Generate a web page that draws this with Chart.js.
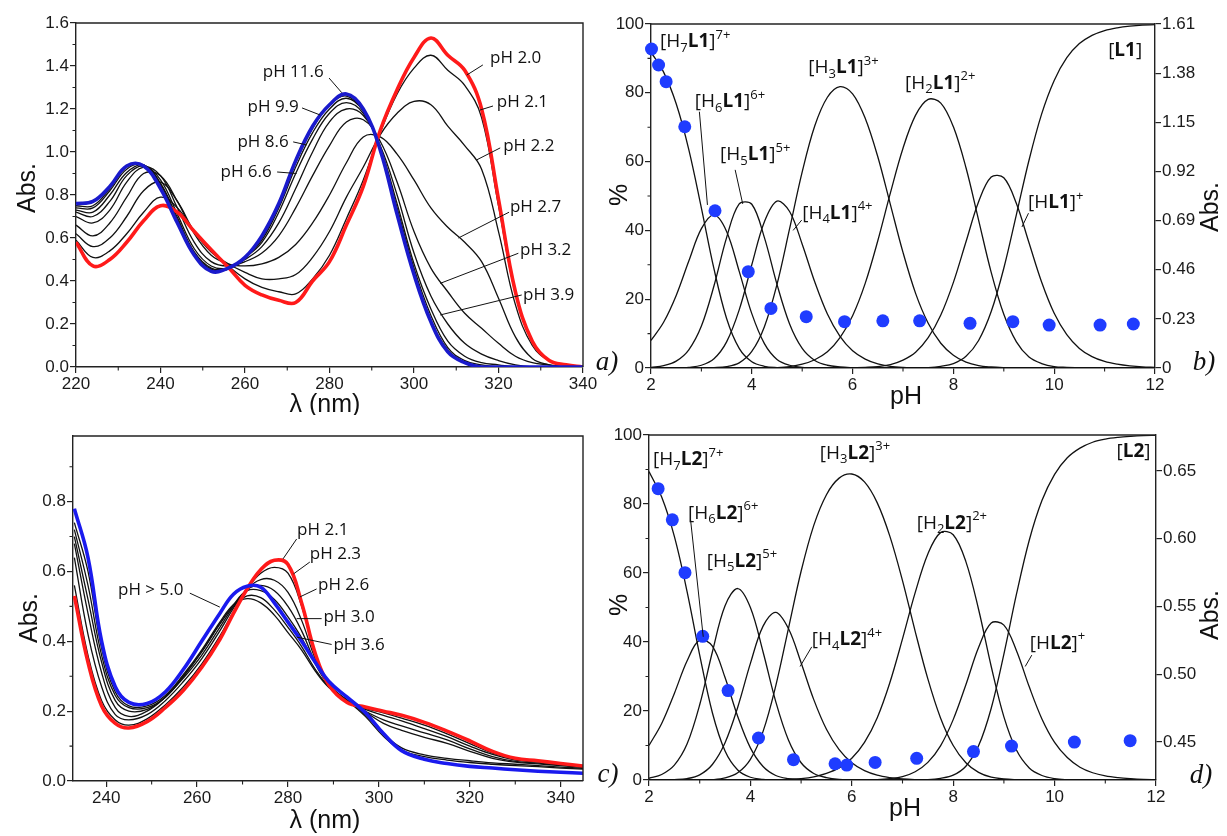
<!DOCTYPE html>
<html lang="en">
<head>
<meta charset="UTF-8">
<title>UV spectra and species distribution of L1 and L2</title>
<script src="https://cdn.jsdelivr.net/npm/chart.js"></script>
<style>
    body {
        margin: 0;
        width: 1227px;
        height: 836px;
        position: relative;
        overflow: hidden;
        background: #fff;
    }
    .panel {
        position: absolute;
    }
</style>
</head>
<body>

<div class="panel" style="left:0;top:0"><canvas id="chartA" width="620" height="415"></canvas></div>
<div class="panel" style="left:600px;top:0"><canvas id="chartB" width="627" height="415"></canvas></div>
<div class="panel" style="left:0;top:415px"><canvas id="chartC" width="620" height="421"></canvas></div>
<div class="panel" style="left:600px;top:415px"><canvas id="chartD" width="627" height="421"></canvas></div>

<script>
// ---------- panel a) : UV spectra of L1 at different pH ----------
var wlA = [220,224,228,232,236,240,244,248,252,256,260,264,268,272,276,280,284,288,292,296,300,304,308,312,316,320,324,328,332,336,340];
var absA_pH20  = [0.58,0.47,0.50,0.58,0.68,0.75,0.72,0.63,0.545,0.465,0.38,0.335,0.31,0.30,0.40,0.49,0.66,0.84,1.10,1.29,1.44,1.53,1.45,1.38,1.20,0.78,0.35,0.12,0.03,0.01,0];
var absA_pH21  = [0.59,0.51,0.54,0.62,0.72,0.79,0.74,0.63,0.54,0.47,0.41,0.37,0.35,0.34,0.41,0.52,0.69,0.87,1.09,1.27,1.39,1.45,1.38,1.31,1.16,0.75,0.34,0.12,0.03,0.01,0];
var absA_pH22  = [0.62,0.56,0.60,0.70,0.82,0.86,0.77,0.63,0.535,0.48,0.44,0.41,0.41,0.43,0.51,0.63,0.79,0.93,1.08,1.18,1.235,1.22,1.12,1.03,0.92,0.63,0.29,0.10,0.03,0.01,0];
var absA_pH27  = [0.66,0.61,0.67,0.79,0.90,0.89,0.77,0.62,0.52,0.48,0.47,0.48,0.51,0.57,0.67,0.80,0.95,1.07,1.07,0.99,0.87,0.74,0.65,0.58,0.49,0.32,0.14,0.04,0.01,0,0];
var absA_pH32  = [0.70,0.67,0.73,0.86,0.93,0.89,0.74,0.58,0.49,0.47,0.49,0.53,0.61,0.74,0.89,1.03,1.14,1.15,1.05,0.86,0.63,0.46,0.35,0.25,0.18,0.11,0.05,0.02,0.01,0,0];
var absA_pH39  = [0.72,0.70,0.77,0.89,0.935,0.87,0.71,0.55,0.47,0.46,0.50,0.56,0.67,0.83,1.00,1.14,1.20,1.17,1.03,0.80,0.53,0.33,0.20,0.11,0.06,0.03,0.01,0,0,0,0];
var absA_pH66  = [0.73,0.72,0.80,0.905,0.94,0.855,0.695,0.535,0.46,0.46,0.51,0.58,0.72,0.90,1.06,1.18,1.23,1.18,1.02,0.76,0.48,0.27,0.12,0.05,0.02,0.01,0,0,0,0,0];
var absA_pH86  = [0.74,0.74,0.82,0.92,0.94,0.85,0.685,0.53,0.455,0.455,0.51,0.59,0.74,0.93,1.09,1.20,1.25,1.19,1.01,0.74,0.46,0.24,0.09,0.03,0.01,0,0,0,0,0,0];
var absA_pH99  = [0.75,0.75,0.83,0.93,0.935,0.84,0.68,0.525,0.45,0.455,0.51,0.60,0.75,0.95,1.11,1.22,1.26,1.19,1.01,0.72,0.44,0.22,0.08,0.02,0,0,0,0,0,0,0];
var absA_pH116 = [0.76,0.77,0.84,0.935,0.935,0.83,0.67,0.52,0.445,0.46,0.51,0.61,0.76,0.96,1.12,1.22,1.27,1.20,1.01,0.71,0.43,0.21,0.07,0.02,0,0,0,0,0,0,0];
var ticksA_x = [220,240,260,280,300,320,340];
var ticksA_y = [0,0.2,0.4,0.6,0.8,1.0,1.2,1.4,1.6];

// ---------- panel c) : UV spectra of L2 at different pH ----------
var wlC = [233,236,239,242,245,249,253,257,261,265,268,271,274,277,280,283,286,289,293,297,301,305,310,315,320,325,330,335,340,345];
var absC_pH21 = [0.53,0.34,0.215,0.165,0.152,0.17,0.21,0.26,0.325,0.405,0.48,0.55,0.605,0.632,0.62,0.51,0.365,0.275,0.225,0.212,0.200,0.188,0.168,0.143,0.115,0.085,0.065,0.058,0.05,0.043];
var absC_pH23 = [0.56,0.36,0.23,0.175,0.16,0.178,0.218,0.27,0.335,0.415,0.485,0.55,0.595,0.612,0.595,0.50,0.36,0.275,0.225,0.208,0.195,0.180,0.160,0.135,0.107,0.080,0.063,0.056,0.049,0.042];
var absC_pH26 = [0.64,0.42,0.27,0.19,0.175,0.19,0.23,0.285,0.35,0.43,0.495,0.55,0.577,0.575,0.54,0.46,0.35,0.275,0.228,0.205,0.188,0.172,0.150,0.127,0.100,0.076,0.060,0.054,0.048,0.041];
var absC_pH30 = [0.68,0.48,0.31,0.21,0.185,0.20,0.24,0.295,0.36,0.44,0.50,0.548,0.56,0.545,0.50,0.43,0.34,0.275,0.23,0.20,0.175,0.158,0.138,0.118,0.092,0.070,0.056,0.051,0.046,0.040];
var absC_pH36 = [0.70,0.52,0.34,0.23,0.20,0.205,0.24,0.30,0.37,0.45,0.505,0.545,0.545,0.52,0.47,0.41,0.335,0.275,0.232,0.198,0.165,0.145,0.125,0.108,0.085,0.065,0.054,0.049,0.044,0.039];
var absC_pH42 = [0.72,0.56,0.36,0.245,0.21,0.21,0.24,0.30,0.37,0.45,0.50,0.53,0.525,0.49,0.44,0.385,0.32,0.27,0.232,0.19,0.135,0.095,0.075,0.065,0.058,0.052,0.048,0.044,0.040,0.036];
var absC_pH48 = [0.74,0.60,0.38,0.255,0.215,0.215,0.245,0.305,0.375,0.455,0.505,0.522,0.51,0.475,0.425,0.375,0.315,0.268,0.23,0.185,0.128,0.088,0.070,0.060,0.053,0.048,0.044,0.041,0.037,0.034];
var absC_pH50 = [0.78,0.64,0.40,0.27,0.225,0.222,0.255,0.32,0.40,0.48,0.535,0.558,0.555,0.51,0.455,0.40,0.34,0.285,0.24,0.196,0.136,0.087,0.062,0.050,0.042,0.037,0.032,0.028,0.025,0.022];
var ticksC_x = [240,260,280,300,320,340];
var ticksC_y = [0,0.2,0.4,0.6,0.8];

// ---------- panels b) and d) : species distribution (%) vs pH ----------
var pHGrid = [2,2.25,2.5,2.75,3,3.25,3.5,3.75,4,4.25,4.5,4.75,5,5.25,5.5,5.75,6,6.25,6.5,6.75,7,7.25,7.5,7.75,8,8.25,8.5,8.75,9,9.25,9.5,9.75,10,10.25,10.5,10.75,11,11.25,11.5,11.75,12];

var distL1_H7 = [91.8,86.0,76.8,63.5,46.5,28.8,14.4,5.7,1.8,0.5,0.1,0,0,0,0,0,0,0,0,0,0,0,0,0,0,0,0,0,0,0,0,0,0,0,0,0,0,0,0,0,0];
var distL1_H6 = [8.0,13.3,21.1,31.1,40.5,44.5,39.7,28.1,15.8,7.1,2.5,0.8,0.2,0,0,0,0,0,0,0,0,0,0,0,0,0,0,0,0,0,0,0,0,0,0,0,0,0,0,0,0];
var distL1_H5 = [0.2,0.7,2.0,5.3,12.2,23.9,37.9,47.7,47.6,37.9,24.3,12.8,5.7,2.2,0.8,0.3,0.1,0,0,0,0,0,0,0,0,0,0,0,0,0,0,0,0,0,0,0,0,0,0,0,0];
var distL1_H4 = [0,0,0,0.2,0.8,2.7,7.6,16.9,30.0,42.5,48.5,45.5,36.0,25.0,15.7,9.2,5.0,2.6,1.2,0.5,0.2,0.1,0,0,0,0,0,0,0,0,0,0,0,0,0,0,0,0,0,0,0];
var distL1_H3 = [0,0,0,0,0,0.1,0.4,1.5,4.8,12.0,24.3,40.5,57.0,70.4,78.7,81.8,79.7,72.6,61.4,47.5,33.6,21.7,13.0,7.2,3.7,1.7,0.7,0.3,0.1,0,0,0,0,0,0,0,0,0,0,0,0];
var distL1_H2 = [0,0,0,0,0,0,0,0,0,0,0.1,0.4,1.1,2.4,4.7,8.8,15.2,24.6,37.0,50.9,63.9,73.5,78.1,77.0,70.1,58.2,43.0,27.8,15.6,7.6,3.2,1.3,0.4,0.2,0.1,0,0,0,0,0,0];
var distL1_H1 = [0,0,0,0,0,0,0,0,0,0,0,0,0,0,0,0,0.1,0.2,0.4,1.0,2.3,4.6,8.8,15.4,24.9,36.7,48.3,55.5,55.3,47.8,36.4,25.0,15.9,9.7,5.7,3.3,1.9,1.1,0.6,0.3,0.2];
var distL1_L  = [0,0,0,0,0,0,0,0,0,0,0,0,0,0,0,0,0,0,0,0,0,0,0.1,0.5,1.3,3.4,8.0,16.4,29.0,44.6,60.4,73.8,83.6,90.2,94.3,96.7,98.1,98.9,99.4,99.7,99.8];

var distL2_H7 = [89.4,82.0,70.6,54.7,36.2,19.5,8.4,2.9,0.8,0.2,0,0,0,0,0,0,0,0,0,0,0,0,0,0,0,0,0,0,0,0,0,0,0,0,0,0,0,0,0,0,0];
var distL2_H6 = [10.0,16.4,25.1,34.5,40.6,38.8,29.7,18.4,9.3,3.9,1.3,0.4,0.1,0,0,0,0,0,0,0,0,0,0,0,0,0,0,0,0,0,0,0,0,0,0,0,0,0,0,0,0];
var distL2_H5 = [0.5,1.6,4.3,10.4,21.8,37.1,50.5,55.5,50.0,37.1,22.7,11.6,5.0,1.9,0.7,0.2,0.1,0,0,0,0,0,0,0,0,0,0,0,0,0,0,0,0,0,0,0,0,0,0,0,0];
var distL2_H4 = [0,0,0.1,0.4,1.5,4.5,10.8,21.1,33.8,44.6,48.6,43.9,34.0,23.3,14.7,8.8,5.0,2.7,1.4,0.7,0.3,0.1,0,0,0,0,0,0,0,0,0,0,0,0,0,0,0,0,0,0,0];
var distL2_H3 = [0,0,0,0,0,0.1,0.6,2.1,6.0,14.1,27.3,43.9,60.5,73.8,82.7,87.5,88.7,86.4,80.4,70.7,57.8,43.1,29.3,18.0,10.0,5.0,2.2,0.8,0.3,0.1,0,0,0,0,0,0,0,0,0,0,0];
var distL2_H2 = [0,0,0,0,0,0,0,0,0,0,0.1,0.2,0.4,0.9,1.9,3.5,6.3,10.9,18.0,28.2,40.9,54.3,65.5,71.7,71.1,63.3,49.5,32.9,18.3,8.6,3.5,1.3,0.4,0.1,0,0,0,0,0,0,0];
var distL2_H1 = [0,0,0,0,0,0,0,0,0,0,0,0,0,0,0,0,0,0,0.1,0.4,1.0,2.4,5.1,9.9,17.5,27.6,38.4,45.5,44.9,37.4,27.0,17.7,10.9,6.5,3.7,2.1,1.2,0.7,0.4,0.2,0.1];
var distL2_L  = [0,0,0,0,0,0,0,0,0,0,0,0,0,0,0,0,0,0,0,0,0,0,0.1,0.5,1.4,4.0,9.9,20.8,36.5,54.0,69.5,81.0,88.6,93.4,96.2,97.9,98.8,99.3,99.6,99.8,99.9];

// absorbance read at the monitoring wavelength (blue dots, right axis)
var dotsL1_pH  = [2.01,2.15,2.30,2.67,3.27,3.93,4.38,5.08,5.84,6.60,7.33,8.33,9.18,9.90,10.91,11.57];
var dotsL1_abs = [1.493,1.418,1.340,1.129,0.736,0.451,0.279,0.240,0.217,0.221,0.221,0.209,0.217,0.201,0.201,0.206];
var dotsL2_pH  = [2.18,2.46,2.71,3.06,3.56,4.16,4.85,5.67,5.90,6.46,7.28,8.40,9.15,10.39,11.49];
var dotsL2_abs = [0.637,0.614,0.575,0.528,0.488,0.453,0.437,0.434,0.433,0.435,0.438,0.443,0.447,0.450,0.451];

var ticksPH = [2,4,6,8,10,12];
var ticksPct = [0,20,40,60,80,100];
var ticksB_abs = [0,0.23,0.46,0.69,0.92,1.15,1.38,1.61];
var ticksD_abs = [0.45,0.50,0.55,0.60,0.65];

// ------------------------------------------------------------
Chart.defaults.font.family = '"Liberation Sans", Arial, sans-serif';
Chart.defaults.font.size = 17;
Chart.defaults.color = '#1a1a1a';
Chart.defaults.animation = false;

var RED = '#ff1a1a';
var BLUE = '#1a1acc';
var DOT = '#1f3cff';
var INK = '#111';

function pts(xs, ys) {
    return xs.map(function (x, i) { return { x: x, y: ys[i] }; });
}

function fixedTicks(vals) {
    return function (scale) {
        scale.ticks = vals.map(function (v) { return { value: v }; });
    };
}

function curve(xs, ys, color, width, tension) {
    return {
        data: pts(xs, ys),
        showLine: true,
        borderColor: color,
        borderWidth: width,
        pointRadius: 0,
        tension: tension || 0.4,
        yAxisID: 'y'
    };
}

function dots(xs, ys) {
    return {
        data: pts(xs, ys),
        showLine: false,
        pointRadius: 6.5,
        pointBackgroundColor: DOT,
        pointBorderWidth: 0,
        yAxisID: 'y1',
        clip: 10
    };
}

function axis(min, max, ticks, size, fmt, extra) {
    var o = {
        type: 'linear',
        min: min,
        max: max,
        afterBuildTicks: fixedTicks(ticks),
        grid: { drawOnChartArea: false, drawTicks: true, tickLength: 6, color: '#222', lineWidth: 1.2 },
        border: { display: true, color: '#222', width: 1.4 },
        ticks: { autoSkip: false, maxRotation: 0, padding: 1, callback: fmt }
    };
    o.afterFit = function (s) {
        if (s.isHorizontal()) s.height = size; else s.width = size;
    };
    for (var k in extra) o[k] = extra[k];
    return o;
}

// species label, e.g. [H7L1]7+
function sp(h, lig, ch) {
    var parts = [{ t: '[' }];
    if (h) {
        parts.push({ t: 'H' });
        if (h !== '1') parts.push({ t: h, s: 'sub' });
    }
    parts.push({ t: lig, b: true });
    parts.push({ t: ']' });
    if (ch) parts.push({ t: ch, s: 'sup' });
    return parts;
}

function drawRich(ctx, x, y, parts, size) {
    var cx = x;
    parts.forEach(function (p) {
        var fs = p.s ? Math.round(size * 0.66) : size;
        ctx.font = (p.b ? 'bold ' : '') + fs + 'px "Open Sans", sans-serif';
        var dy = p.s === 'sub' ? size * 0.32 : (p.s === 'sup' ? -size * 0.36 : 0);
        ctx.fillText(p.t, cx, y + dy);
        cx += ctx.measureText(p.t).width;
    });
}

var decor = {
    id: 'decor',
    afterDraw: function (chart) {
        var o = chart.options.plugins.decor;
        var ctx = chart.ctx, a = chart.chartArea;
        var sx = chart.scales.x, sy = chart.scales.y, sy1 = chart.scales.y1;
        ctx.save();

        // box
        ctx.strokeStyle = '#222';
        ctx.lineWidth = 1.4;
        ctx.beginPath();
        ctx.moveTo(a.left, a.top);
        ctx.lineTo(a.right, a.top);
        if (o.boxRight) ctx.lineTo(a.right, a.bottom);
        ctx.stroke();

        // minor ticks
        ctx.lineWidth = 1.1;
        ctx.beginPath();
        (o.minorX || []).forEach(function (v) {
            var p = sx.getPixelForValue(v);
            ctx.moveTo(p, a.bottom); ctx.lineTo(p, a.bottom + 3.5);
        });
        (o.minorY || []).forEach(function (v) {
            var p = sy.getPixelForValue(v);
            ctx.moveTo(a.left, p); ctx.lineTo(a.left - 3.5, p);
        });
        ctx.stroke();

        // leader lines
        ctx.strokeStyle = INK;
        ctx.lineWidth = 1;
        ctx.beginPath();
        (o.leaders || []).forEach(function (l) {
            ctx.moveTo(sx.getPixelForValue(l[0]), sy.getPixelForValue(l[1]));
            ctx.lineTo(sx.getPixelForValue(l[2]), sy.getPixelForValue(l[3]));
        });
        ctx.stroke();

        // curve labels
        ctx.fillStyle = INK;
        ctx.textAlign = 'left';
        ctx.textBaseline = 'middle';
        (o.labels || []).forEach(function (t) {
            var px = sx.getPixelForValue(t.x), py = sy.getPixelForValue(t.y);
            if (t.parts) {
                drawRich(ctx, px, py, t.parts, o.speciesSize);
            } else {
                ctx.font = o.labelSize + 'px "Open Sans", sans-serif';
                ctx.fillText(t.text, px, py);
            }
        });

        // axis titles and panel letter
        ctx.textAlign = 'center';
        (o.titles || []).forEach(function (t) {
            ctx.save();
            ctx.translate(t.x, t.y);
            if (t.rot) ctx.rotate(-Math.PI / 2);
            ctx.font = t.font || '25px "Liberation Sans", Arial, sans-serif';
            ctx.fillText(t.text, 0, 0);
            ctx.restore();
        });
        ctx.restore();
    }
};

var LETTER = 'italic 27px "Liberation Serif", serif';

function baseOptions(pad, scales, deco) {
    return {
        responsive: false,
        devicePixelRatio: 1,
        layout: { padding: pad },
        plugins: { legend: { display: false }, tooltip: { enabled: false }, decor: deco },
        scales: scales
    };
}

function fmt1(v) { return v.toFixed(1); }
function fmtInt(v) { return String(v); }

// ---------------- chart a ----------------
new Chart(document.getElementById('chartA'), {
    type: 'scatter',
    data: {
        datasets: [
            curve(wlA, absA_pH116, BLUE, 3.6),
            curve(wlA, absA_pH20, RED, 3.6),
            curve(wlA, absA_pH21, INK, 1.3),
            curve(wlA, absA_pH22, INK, 1.3),
            curve(wlA, absA_pH27, INK, 1.3),
            curve(wlA, absA_pH32, INK, 1.3),
            curve(wlA, absA_pH39, INK, 1.3),
            curve(wlA, absA_pH66, INK, 1.3),
            curve(wlA, absA_pH86, INK, 1.3),
            curve(wlA, absA_pH99, INK, 1.3)
        ]
    },
    options: baseOptions({ top: 23, right: 37, left: 0, bottom: 0 }, {
        x: axis(220, 340, ticksA_x, 48, fmtInt, {}),
        y: axis(0, 1.6, ticksA_y, 76, fmt1, {})
    }, {
        boxRight: true,
        minorX: [230,250,270,290,310,330],
        minorY: [0.1,0.3,0.5,0.7,0.9,1.1,1.3,1.5],
        labelSize: 17,
        labels: [
            { x: 264.2, y: 1.372, text: 'pH 11.6' },
            { x: 260.6, y: 1.209, text: 'pH 9.9' },
            { x: 258.2, y: 1.047, text: 'pH 8.6' },
            { x: 254.2, y: 0.907, text: 'pH 6.6' },
            { x: 318.0, y: 1.437, text: 'pH 2.0' },
            { x: 319.6, y: 1.233, text: 'pH 2.1' },
            { x: 321.1, y: 1.028, text: 'pH 2.2' },
            { x: 322.7, y: 0.744, text: 'pH 2.7' },
            { x: 325.1, y: 0.544, text: 'pH 3.2' },
            { x: 325.8, y: 0.335, text: 'pH 3.9' }
        ],
        leaders: [
            [279.9, 1.344, 282.9, 1.276],
            [273.5, 1.205, 277.8, 1.172],
            [271.4, 1.047, 274.6, 1.033],
            [267.6, 0.907, 272.2, 0.900],
            [316.3, 1.405, 312.5, 1.358],
            [318.7, 1.214, 315.6, 1.195],
            [320.4, 1.019, 314.8, 0.963],
            [322.5, 0.720, 310.5, 0.600],
            [324.7, 0.529, 306.2, 0.389],
            [325.5, 0.335, 306.2, 0.242]
        ],
        titles: [
            { x: 28, y: 188, rot: true, text: 'Abs.' },
            { x: 325, y: 405, text: 'λ (nm)' },
            { x: 607, y: 363, text: 'a)', font: LETTER }
        ]
    }),
    plugins: [decor]
});

// ---------------- chart b ----------------
function distSets(list) {
    return list.map(function (ys) { return curve(pHGrid, ys, INK, 1.3, 0.35); });
}

new Chart(document.getElementById('chartB'), {
    type: 'scatter',
    data: {
        datasets: [dots(dotsL1_pH, dotsL1_abs)].concat(distSets([
            distL1_H7, distL1_H6, distL1_H5, distL1_H4, distL1_H3, distL1_H2, distL1_H1, distL1_L
        ]))
    },
    options: baseOptions({ top: 24, right: 0, left: 0, bottom: 0 }, {
        x: axis(2, 12, ticksPH, 47, fmtInt, {}),
        y: axis(0, 100, ticksPct, 51, fmtInt, {}),
        y1: axis(0, 1.61, ticksB_abs, 72, function (v) { return v === 0 ? '0' : v.toFixed(2); }, { position: 'right' })
    }, {
        minorX: [3,5,7,9,11],
        minorY: [10,30,50,70,90],
        speciesSize: 19,
        labels: [
            { x: 2.18, y: 94.8, parts: sp('7', 'L1', '7+') },
            { x: 2.87, y: 77.3, parts: sp('6', 'L1', '6+') },
            { x: 3.37, y: 61.9, parts: sp('5', 'L1', '5+') },
            { x: 5.00, y: 45.0, parts: sp('4', 'L1', '4+') },
            { x: 5.12, y: 87.2, parts: sp('3', 'L1', '3+') },
            { x: 7.04, y: 82.8, parts: sp('2', 'L1', '2+') },
            { x: 9.48, y: 48.0, parts: sp('1', 'L1', '+') },
            { x: 11.07, y: 92.4, parts: sp('', 'L1', '') }
        ],
        leaders: [
            [2.96, 74.5, 3.12, 47.4],
            [3.67, 57.6, 3.82, 47.7],
            [4.99, 43.0, 4.82, 40.0],
            [9.49, 45.0, 9.36, 41.0]
        ],
        titles: [
            { x: 20, y: 195, rot: true, text: '%' },
            { x: 611, y: 207, rot: true, text: 'Abs.' },
            { x: 306, y: 397, text: 'pH' },
            { x: 604, y: 363, text: 'b)', font: LETTER }
        ]
    }),
    plugins: [decor]
});

// ---------------- chart c ----------------
new Chart(document.getElementById('chartC'), {
    type: 'scatter',
    data: {
        datasets: [
            curve(wlC, absC_pH50, '#1a1aee', 3.6),
            curve(wlC, absC_pH21, RED, 3.6),
            curve(wlC, absC_pH23, INK, 1.3),
            curve(wlC, absC_pH26, INK, 1.3),
            curve(wlC, absC_pH30, INK, 1.3),
            curve(wlC, absC_pH36, INK, 1.3),
            curve(wlC, absC_pH42, INK, 1.3),
            curve(wlC, absC_pH48, INK, 1.3)
        ]
    },
    options: baseOptions({ top: 21, right: 37, left: 0, bottom: 0 }, {
        x: axis(232.7, 344.9, ticksC_x, 55, fmtInt, {}),
        y: axis(0, 0.988, ticksC_y, 73, fmt1, {})
    }, {
        boxRight: true,
        minorX: [250,270,290,310,330],
        minorY: [0.1,0.3,0.5,0.7,0.9],
        labelSize: 17,
        labels: [
            { x: 282.0, y: 0.717, text: 'pH 2.1' },
            { x: 284.8, y: 0.650, text: 'pH 2.3' },
            { x: 286.6, y: 0.560, text: 'pH 2.6' },
            { x: 287.8, y: 0.469, text: 'pH 3.0' },
            { x: 290.0, y: 0.389, text: 'pH 3.6' },
            { x: 242.6, y: 0.546, text: 'pH > 5.0' }
        ],
        leaders: [
            [281.9, 0.693, 278.9, 0.636],
            [284.8, 0.627, 281.2, 0.593],
            [286.3, 0.550, 282.6, 0.527],
            [287.4, 0.465, 281.9, 0.465],
            [289.6, 0.391, 281.9, 0.412],
            [258.4, 0.538, 265.0, 0.498]
        ],
        titles: [
            { x: 30, y: 203, rot: true, text: 'Abs.' },
            { x: 325, y: 406, text: 'λ (nm)' },
            { x: 608, y: 360, text: 'c)', font: LETTER }
        ]
    }),
    plugins: [decor]
});

// ---------------- chart d ----------------
new Chart(document.getElementById('chartD'), {
    type: 'scatter',
    data: {
        datasets: [dots(dotsL2_pH, dotsL2_abs)].concat(distSets([
            distL2_H7, distL2_H6, distL2_H5, distL2_H4, distL2_H3, distL2_H2, distL2_H1, distL2_L
        ]))
    },
    options: baseOptions({ top: 20, right: 0, left: 0, bottom: 0 }, {
        x: axis(2, 12, ticksPH, 56, fmtInt, {}),
        y: axis(0, 100, ticksPct, 49, fmtInt, {}),
        y1: axis(0.422, 0.6766, ticksD_abs, 71, function (v) { return v.toFixed(2); }, { position: 'right' })
    }, {
        minorX: [3,5,7,9,11],
        minorY: [10,30,50,70,90],
        speciesSize: 19,
        labels: [
            { x: 2.08, y: 92.8, parts: sp('7', 'L2', '7+') },
            { x: 2.77, y: 77.3, parts: sp('6', 'L2', '6+') },
            { x: 3.14, y: 63.3, parts: sp('5', 'L2', '5+') },
            { x: 5.21, y: 40.6, parts: sp('4', 'L2', '4+') },
            { x: 5.37, y: 94.7, parts: sp('3', 'L2', '3+') },
            { x: 7.28, y: 74.4, parts: sp('2', 'L2', '2+') },
            { x: 9.51, y: 39.6, parts: sp('1', 'L2', '+') },
            { x: 11.22, y: 95.2, parts: sp('', 'L2', '') }
        ],
        leaders: [
            [2.82, 75.4, 3.07, 41.5],
            [5.21, 38.6, 4.98, 32.9],
            [9.55, 36.2, 9.42, 32.9]
        ],
        titles: [
            { x: 20, y: 190, rot: true, text: '%' },
            { x: 611, y: 200, rot: true, text: 'Abs.' },
            { x: 305, y: 394, text: 'pH' },
            { x: 601, y: 361, text: 'd)', font: LETTER }
        ]
    }),
    plugins: [decor]
});
</script>

</body>
</html>
